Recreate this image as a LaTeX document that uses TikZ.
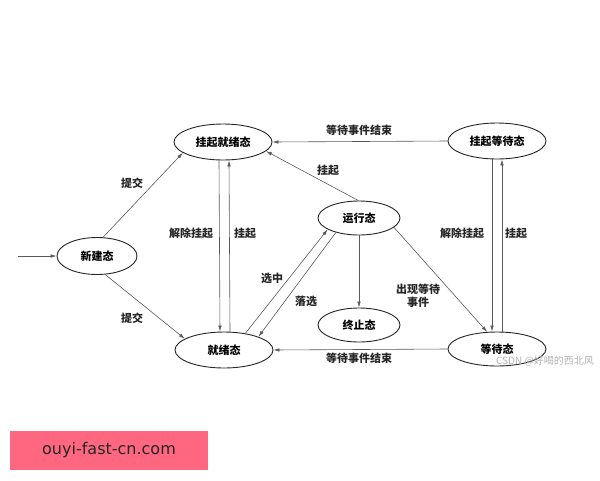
\documentclass[tikz,border=0pt]{standalone}
\usepackage{fontspec}
\newfontfamily\cjk{Noto Sans CJK SC}
\newfontfamily\adfont{DejaVu Sans}
\usetikzlibrary{shapes.geometric,arrows.meta}
\definecolor{adpink}{RGB}{255,102,128}
\begin{document}
\begin{tikzpicture}[x=1pt,y=-1pt,
 state/.style={ellipse,draw=black!85,line width=0.9pt,minimum width=98pt,minimum height=36pt,inner sep=0pt,font=\cjk\bfseries\fontsize{11}{13}\selectfont},
 sstate/.style={state,minimum width=82pt,minimum height=34pt},
 conn/.style={draw=black!65,line width=0.6pt,-{Latex[length=6pt,width=3.5pt]}},
 lbl/.style={font=\cjk\bfseries\fontsize{11}{13}\selectfont,text=black!85,inner sep=0pt,align=center}]
\useasboundingbox (0,0) rectangle (600,480);
\fill[white] (0,0) rectangle (600,480);

\node[state] (sr) at (223,142) {挂起就绪态};
\node[state] (sw) at (497,141) {挂起等待态};
\node[state,minimum width=80pt,minimum height=37pt] (new) at (97,256) {新建态};
\node[sstate] (run) at (359,218) {运行态};
\node[sstate] (end) at (359,325) {终止态};
\node[state] (rdy) at (224,350) {就绪态};
\node[state,minimum height=34pt] (wait) at (497,349) {等待态};

\coordinate (in) at (18,256);
\draw[conn] (in) -- (new.west);
\draw[conn] (new.72) -- (sr.195);
\draw[conn] (new.294) -- (rdy.164);
\draw[conn] ([xshift=-4pt]sr.south) -- ([xshift=-4pt]rdy.north);
\draw[conn] ([xshift=6pt]rdy.north) -- ([xshift=6pt]sr.south);
\draw[conn] (rdy.38) -- (run.200);
\draw[conn] (run.212) -- (rdy.21);
\draw[conn] (run.92) -- (sr.-12);
\draw[conn] (sw.west) -- (sr.east);
\draw[conn] (run.south) -- (end.north);
\draw[conn] (run.345) -- (wait.120);
\draw[conn] ([xshift=-5pt]sw.south) -- ([xshift=-5pt]wait.north);
\draw[conn] ([xshift=5pt]wait.north) -- ([xshift=5pt]sw.south);
\draw[conn] (wait.west) -- (rdy.east);

\node[lbl] (t1) at (132,183) {提交};
\node[lbl] (t2) at (132,318) {提交};
\node[lbl] (t3) at (191,233) {解除挂起};
\node[lbl] (t4) at (245,233) {挂起};
\node[lbl] (t5) at (272,278) {选中};
\node[lbl] (t6) at (306,301) {落选};
\node[lbl] (t7) at (328,170) {挂起};
\node[lbl] (t8) at (359,130) {等待事件结束};
\node[lbl] (t9) at (359,358) {等待事件结束};
\node[lbl] (t10) at (418,296) {出现等待\\事件};
\node[lbl] (t11) at (462,233) {解除挂起};
\node[lbl] (t12) at (516,233) {挂起};

\node[font=\cjk\fontsize{10}{12}\selectfont,text=black!30,inner sep=0pt] (wm) at (545,361) {CSDN @好喝的西北风};

\node[fill=adpink,minimum width=198pt,minimum height=39pt,inner sep=0pt,font=\adfont\fontsize{16}{18}\selectfont,text=black!85] (ad) at (109,450.5) {ouyi-fast-cn.com};
\end{tikzpicture}
\end{document}
